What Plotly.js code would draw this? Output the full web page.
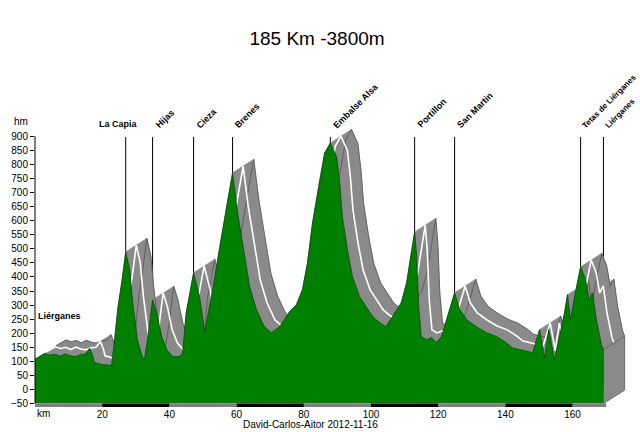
<!DOCTYPE html>
<html>
<head>
<meta charset="utf-8">
<script src="https://cdn.plot.ly/plotly-3.0.1.min.js"></script>
<style>html,body{margin:0;padding:0;background:#fff;}#chart{width:640px;height:432px;}</style>
</head>
<body>
<div id="chart"></div>
<script>
// distance along the route (km) and elevation (m)
const km = [0, 1.5, 2.9, 4.5, 6, 7.5, 9, 10.5, 12, 13.5, 15, 16.3, 17.2, 17.7, 19.5, 21, 22.8,
  23.7, 24.6, 25.8, 27, 28.2, 29.1, 30.5, 32, 32.6, 33.5, 35, 36.2, 37.7, 39.2, 41, 43, 43.9,
  45, 47.2, 49, 50.5, 52.9, 55, 57, 58.8, 60.3, 62.4, 63.9, 65.9, 68.3, 70.4, 72.8, 75.8, 77.8,
  79.6, 81.1, 82.6, 84.7, 86.2, 87.9, 89.8, 90.7, 91.5, 93, 94.5, 96.6, 100.5, 102.6, 104.4,
  106.4, 109, 110.6, 112.1, 113, 113.6, 114.2, 115, 116.5, 118, 119.5, 121, 122.8, 124.9,
  126.4, 128.5, 131.4, 134.4, 137.4, 140.4, 142.1, 146.3, 148.1, 150.2, 151.7, 152.9, 154.6,
  156.1, 157.6, 158.5, 159.4, 160.6, 162.4, 163.9, 164.9, 166, 167.1, 168.6, 169.2];
const elev = [108, 118, 128, 122, 126, 118, 127, 120, 117, 124, 126, 147, 120, 96, 90, 88, 85,
  177, 284, 380, 489, 425, 308, 177, 113, 110, 177, 319, 273, 188, 142, 117, 117, 128,
  273, 415, 330, 206, 355, 507, 649, 770, 628, 472, 365, 284, 223, 202, 223, 277, 301,
  355, 450, 592, 745, 840, 876, 826, 734, 613, 496, 401, 330, 259, 238, 223,
  259, 308, 379, 496, 560, 472, 294, 188, 177, 184, 167, 188, 259, 344,
  284, 248, 223, 202, 188, 165, 148, 135, 131, 213, 113, 213, 106,
  188, 273, 337, 248, 330, 436, 390, 319, 344, 248, 160, 142];

// named points along the route
const passNames = ['La Capia', 'Hijas', 'Cieza', 'Brenes', 'Embalse Alsa', 'Portillon', 'San Martin', 'Tetas de Liérganes', 'Liérganes'];
const passKm = [27, 35, 47.2, 58.8, 87.9, 113, 124.9, 162.4, 169.2];

const yTicks = [-50, 0, 50, 100, 150, 200, 250, 300, 350, 400, 450, 500, 550, 600, 650, 700, 750, 800, 850, 900];
const xTicks = [20, 40, 60, 80, 100, 120, 140, 160];
const scaleKm = [0, 20, 40, 60, 80, 100, 120, 140, 160, 170];

// perspective offset of the "road" band (in axis units)
const DX = 6.3, DY = 48;
const BASE = -50, TOP = 897;
const GRAY = '#8a8a8a';

// plot area in pixels (for paper-referenced texts)
const PL = 35, PW = 595, PT = 108, PH = 299;
const px2x = p => (p - PL) / PW;
const py2y = p => (PT + PH - p) / PH;

const traces = [];

// vertical marker lines (behind everything)
passKm.forEach(k => {
  traces.push({x: [k, k], y: [0, TOP], mode: 'lines', line: {color: '#000', width: 1}, hoverinfo: 'skip', showlegend: false});
});

// band quads, all with the same winding so the fill is their union
const bx = [], by = [];
for (let i = 0; i < km.length - 1; i++) {
  let qx = [km[i], km[i + 1], km[i + 1] + DX, km[i] + DX];
  let qy = [elev[i], elev[i + 1], elev[i + 1] + DY, elev[i] + DY];
  const c = (km[i + 1] - km[i]) * DY - (elev[i + 1] - elev[i]) * DX;
  if (c < 0) { qx = qx.reverse(); qy = qy.reverse(); }
  bx.push(...qx, null);
  by.push(...qy, null);
}
traces.push({x: bx, y: by, mode: 'lines', fill: 'toself', fillcolor: GRAY, line: {color: GRAY, width: 0.6}, hoverinfo: 'skip', showlegend: false});
// outer edge of band
traces.push({x: km.map(v => v + DX), y: elev.map(v => v + DY), mode: 'lines', line: {color: '#555', width: 0.8}, hoverinfo: 'skip', showlegend: false});
// white centre line
traces.push({x: km.map(v => v + DX / 2), y: elev.map(v => v + DY / 2), mode: 'lines', line: {color: '#fff', width: 1.6}, hoverinfo: 'skip', showlegend: false});

// end face
const kE = km[km.length - 1], eE = elev[elev.length - 1];
traces.push({x: [kE, kE, kE + DX, kE + DX, kE], y: [BASE, eE, eE + DY, BASE + DY, BASE], mode: 'lines', fill: 'toself', fillcolor: GRAY, line: {color: '#555', width: 0.8}, hoverinfo: 'skip', showlegend: false});

// baseline + green profile
traces.push({x: [km[0], kE], y: [BASE, BASE], mode: 'lines', line: {width: 0, color: 'rgba(0,0,0,0)'}, hoverinfo: 'skip', showlegend: false});
traces.push({x: km, y: elev, mode: 'lines', fill: 'tonexty', fillcolor: '#008000', line: {color: '#1b3b1b', width: 0.8}, hoverinfo: 'skip', showlegend: false});

// scale bar under the axis
const gx = [], kx = [];
for (let i = 0; i < scaleKm.length - 1; i++) {
  const seg = [scaleKm[i], scaleKm[i + 1], null];
  if (i % 2 === 0) gx.push(...seg); else kx.push(...seg);
}
traces.push({x: gx, y: gx.map(v => v === null ? null : -56), mode: 'lines', line: {color: '#7f7f7f', width: 3.5}, cliponaxis: false, hoverinfo: 'skip', showlegend: false});
traces.push({x: kx, y: kx.map(v => v === null ? null : -56), mode: 'lines', line: {color: '#000', width: 3.5}, cliponaxis: false, hoverinfo: 'skip', showlegend: false});

const FONT = 'Liberation Sans Narrow, Liberation Sans, Arial, sans-serif';
const BFONT = 'Liberation Sans, Arial, sans-serif';

const annotations = [];
passNames.forEach((n, i) => {
  if (i === 0) {
    annotations.push({x: passKm[i], y: 918, xref: 'x', yref: 'y', text: '<b>' + n + '</b>', showarrow: false,
      xanchor: 'center', yanchor: 'bottom', xshift: -7, font: {family: BFONT, size: 9, color: '#000'}});
  } else {
    const last = i >= passNames.length - 2;
    annotations.push({x: passKm[i], y: 912, xref: 'x', yref: 'y', text: '<b>' + n + '</b>', showarrow: false, textangle: -45,
      xanchor: 'left', yanchor: 'bottom', xshift: last ? -3 : -2, font: {family: BFONT, size: last ? 8 : 9, color: '#000'}});
  }
});
annotations.push({x: 0.4, y: 238, xref: 'x', yref: 'y', text: '<b>Liérganes</b>', showarrow: false, xanchor: 'left', yanchor: 'bottom',
  font: {family: BFONT, size: 9, color: '#000'}});
annotations.push({x: px2x(12), y: py2y(122), xref: 'paper', yref: 'paper', text: 'hm', showarrow: false, xanchor: 'left', yanchor: 'middle',
  font: {family: FONT, size: 10, color: '#000'}});
annotations.push({x: px2x(35), y: py2y(413), xref: 'paper', yref: 'paper', text: 'km', showarrow: false, xanchor: 'left', yanchor: 'middle',
  font: {family: FONT, size: 10, color: '#000'}});
annotations.push({x: px2x(310), y: py2y(424), xref: 'paper', yref: 'paper', text: 'David-Carlos-Aitor 2012-11-16', showarrow: false, xanchor: 'center', yanchor: 'middle',
  font: {family: FONT, size: 10, color: '#000'}});

const layout = {
  width: 640, height: 432,
  margin: {l: PL, r: 640 - PL - PW, t: PT, b: 432 - PT - PH, pad: 0},
  paper_bgcolor: '#fff', plot_bgcolor: '#fff',
  showlegend: false,
  title: {text: '185 Km -3800m', font: {family: 'Liberation Sans, Arial, sans-serif', size: 19, color: '#000'},
    x: 317 / 640, xref: 'container', xanchor: 'center', y: 1 - 38 / 432, yref: 'container', yanchor: 'middle'},
  xaxis: {range: [0, 177.1], showgrid: false, zeroline: false, showline: false, tickvals: xTicks, ticks: '',
    tickfont: {family: FONT, size: 10, color: '#000'}, fixedrange: true},
  yaxis: {range: [-62, 1000], showgrid: false, zeroline: false, showline: false, tickvals: yTicks, ticks: 'outside', ticklen: 4,
    tickcolor: '#000', tickwidth: 1, tickfont: {family: FONT, size: 10, color: '#000'}, fixedrange: true},
  shapes: [{type: 'line', xref: 'paper', x0: 0, x1: 0, yref: 'y', y0: BASE, y1: 900, line: {color: '#000', width: 1}}],
  annotations: annotations
};
Plotly.newPlot('chart', traces, layout, {staticPlot: true, displayModeBar: false});
</script>
</body>
</html>
